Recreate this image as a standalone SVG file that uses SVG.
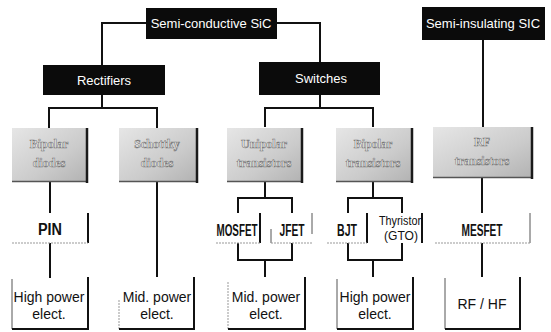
<svg xmlns="http://www.w3.org/2000/svg" width="551" height="332" viewBox="0 0 551 332">
<defs>
<linearGradient id="gg" x1="0" y1="0" x2="1" y2="1">
<stop offset="0" stop-color="#e6e6e6"/>
<stop offset="0.6" stop-color="#cbcbcb"/>
<stop offset="1" stop-color="#b2b2b2"/>
</linearGradient>
<style>
.blk{fill:#0b0b0b}
.bt{fill:#fff;font-family:"Liberation Sans",Arial,sans-serif;font-size:13px;text-anchor:middle}
.gray{fill:url(#gg)}
.gedge{fill:none;stroke:#1a1a1a;stroke-width:2.5}
.gbot{fill:none;stroke:#555;stroke-width:1.5}
.gt{fill:#f4f4f4;stroke:#7a7a7a;stroke-width:0.6;font-family:"Liberation Serif",serif;font-size:12px;font-weight:bold;text-anchor:middle}
.t{fill:#111;font-family:"Liberation Sans",Arial,sans-serif;font-size:14px;text-anchor:middle}
.ts{fill:#111;font-family:"Liberation Sans",Arial,sans-serif;font-size:12px;text-anchor:middle}
.tc{fill:#111;font-family:"Liberation Sans",Arial,sans-serif;font-size:16px;font-weight:bold;text-anchor:middle}
.edge{fill:none;stroke:#111;stroke-width:2}
.thin{fill:none;stroke:#555;stroke-width:1}
.faint{fill:none;stroke:#999;stroke-width:1;stroke-dasharray:2 1}
.c{fill:none;stroke:#111;stroke-width:2}
</style>
</defs>
<rect width="551" height="332" fill="#fff"/>

<g id="connectors">
<path class="c" d="M146,23 H102 V65"/>
<path class="c" d="M277,23 H320 V62"/>
<path class="c" d="M483,40 V127"/>
<path class="c" d="M102,95 V108 M49,128 V108 H157 V128"/>
<path class="c" d="M320,95 V108 M265,127 V108 H373 V127"/>
<path class="c" d="M50,182 V213 M50,243 V278"/>
<path class="c" d="M157,182 V277"/>
<path class="c" d="M265,182 V198 M238,213 V198 H292 V213"/>
<path class="c" d="M238,243 V260 H292 V243 M265,260 V277"/>
<path class="c" d="M373,182 V198 M348,213 V198 H402 V213"/>
<path class="c" d="M348,243 V260 H402 V243 M373,260 V277"/>
<path class="c" d="M482,178 V213 M482,243 V277"/>
</g>

<g id="semi-conductive">
<rect class="blk" x="146" y="8" width="131" height="31"/>
<text class="bt" x="211" y="28">Semi-conductive SiC</text>
</g>
<g id="semi-insulating">
<rect class="blk" x="422" y="7" width="123" height="33"/>
<text class="bt" x="483" y="28">Semi-insulating SIC</text>
</g>
<g id="rectifiers">
<rect class="blk" x="43" y="65" width="122" height="30"/>
<text class="bt" x="104" y="85">Rectifiers</text>
</g>
<g id="switches">
<rect class="blk" x="259" y="62" width="121" height="33"/>
<text class="bt" x="321" y="83">Switches</text>
</g>

<g id="bipolar-diodes">
<rect class="gray" x="12" y="128" width="75" height="54"/>
<path class="gbot" d="M12,181.5 H87"/>
<path class="gedge" d="M87,128 V183"/>
<text class="gt" x="49" y="148">Bipolar</text>
<text class="gt" x="49" y="167">diodes</text>
</g>
<g id="schottky-diodes">
<rect class="gray" x="119" y="128" width="78" height="54"/>
<path class="gbot" d="M119,181.5 H197"/>
<path class="gedge" d="M197,128 V183"/>
<text class="gt" x="157" y="148">Schottky</text>
<text class="gt" x="157" y="167">diodes</text>
</g>
<g id="unipolar-transistors">
<rect class="gray" x="227" y="128" width="75" height="54"/>
<path class="gbot" d="M227,181.5 H302"/>
<path class="gedge" d="M302,128 V183"/>
<text class="gt" x="264" y="148">Unipolar</text>
<text class="gt" x="264" y="167">transistors</text>
</g>
<g id="bipolar-transistors">
<rect class="gray" x="336" y="128" width="76" height="54"/>
<path class="gbot" d="M336,181.5 H412"/>
<path class="gedge" d="M412,128 V183"/>
<text class="gt" x="373" y="148">Bipolar</text>
<text class="gt" x="373" y="167">transistors</text>
</g>
<g id="rf-transistors">
<rect class="gray" x="433" y="127" width="99" height="51"/>
<path class="gbot" d="M433,177.5 H532"/>
<path class="gedge" d="M532,127 V179"/>
<text class="gt" x="482" y="146">RF</text>
<text class="gt" x="482" y="165">transistors</text>
</g>

<g id="pin">
<path class="edge" d="M88,213 V243"/>
<path class="faint" d="M12,243 H88"/>
<text class="tc" x="50" y="235" textLength="24" lengthAdjust="spacingAndGlyphs">PIN</text>
</g>
<g id="mosfet">
<path class="edge" d="M260,213 V243"/>
<path class="faint" d="M216,243 H260"/>
<text class="tc" x="237" y="236" textLength="41" lengthAdjust="spacingAndGlyphs">MOSFET</text>
</g>
<g id="jfet">
<path class="thin" d="M271,229 V243 M312,213 V234"/>
<path class="faint" d="M271,243 H312"/>
<text class="tc" x="292" y="236" textLength="25" lengthAdjust="spacingAndGlyphs">JFET</text>
</g>
<g id="bjt">
<path class="edge" d="M367,213 V243"/>
<path class="faint" d="M327,243 H367"/>
<text class="tc" x="347" y="236" textLength="20" lengthAdjust="spacingAndGlyphs">BJT</text>
</g>
<g id="thyristor">
<path class="edge" d="M422,213 V243"/>
<text class="ts" x="400" y="225" textLength="42" lengthAdjust="spacingAndGlyphs">Thyristor</text>
<text class="ts" x="401" y="240" textLength="34" lengthAdjust="spacingAndGlyphs">(GTO)</text>
</g>
<g id="mesfet">
<path class="thin" d="M530,213 V243"/>
<path class="faint" d="M435,243 H530"/>
<text class="tc" x="482" y="236" textLength="41" lengthAdjust="spacingAndGlyphs">MESFET</text>
</g>

<g id="high-power-1">
<path class="thin" d="M12,279 V329"/>
<path class="edge" d="M88,277 V329 H12"/>
<text class="t" x="49" y="302">High power</text>
<text class="t" x="49" y="319">elect.</text>
</g>
<g id="mid-power-1">
<path class="faint" d="M119,300 V329"/>
<path class="edge" d="M194,277 V329 H119"/>
<text class="t" x="157" y="302">Mid. power</text>
<text class="t" x="157" y="319">elect.</text>
</g>
<g id="mid-power-2">
<path class="faint" d="M228,282 V329"/>
<path class="edge" d="M305,277 V329 H228"/>
<text class="t" x="266" y="302">Mid. power</text>
<text class="t" x="266" y="319">elect.</text>
</g>
<g id="high-power-2">
<path class="thin" d="M337,279 V329"/>
<path class="edge" d="M413,277 V329 H337"/>
<text class="t" x="375" y="302">High power</text>
<text class="t" x="375" y="319">elect.</text>
</g>
<g id="rf-hf">
<path class="thin" d="M445,278 V329"/>
<path class="edge" d="M520,277 V329 H445"/>
<text class="t" x="482" y="309">RF / HF</text>
</g>
</svg>
